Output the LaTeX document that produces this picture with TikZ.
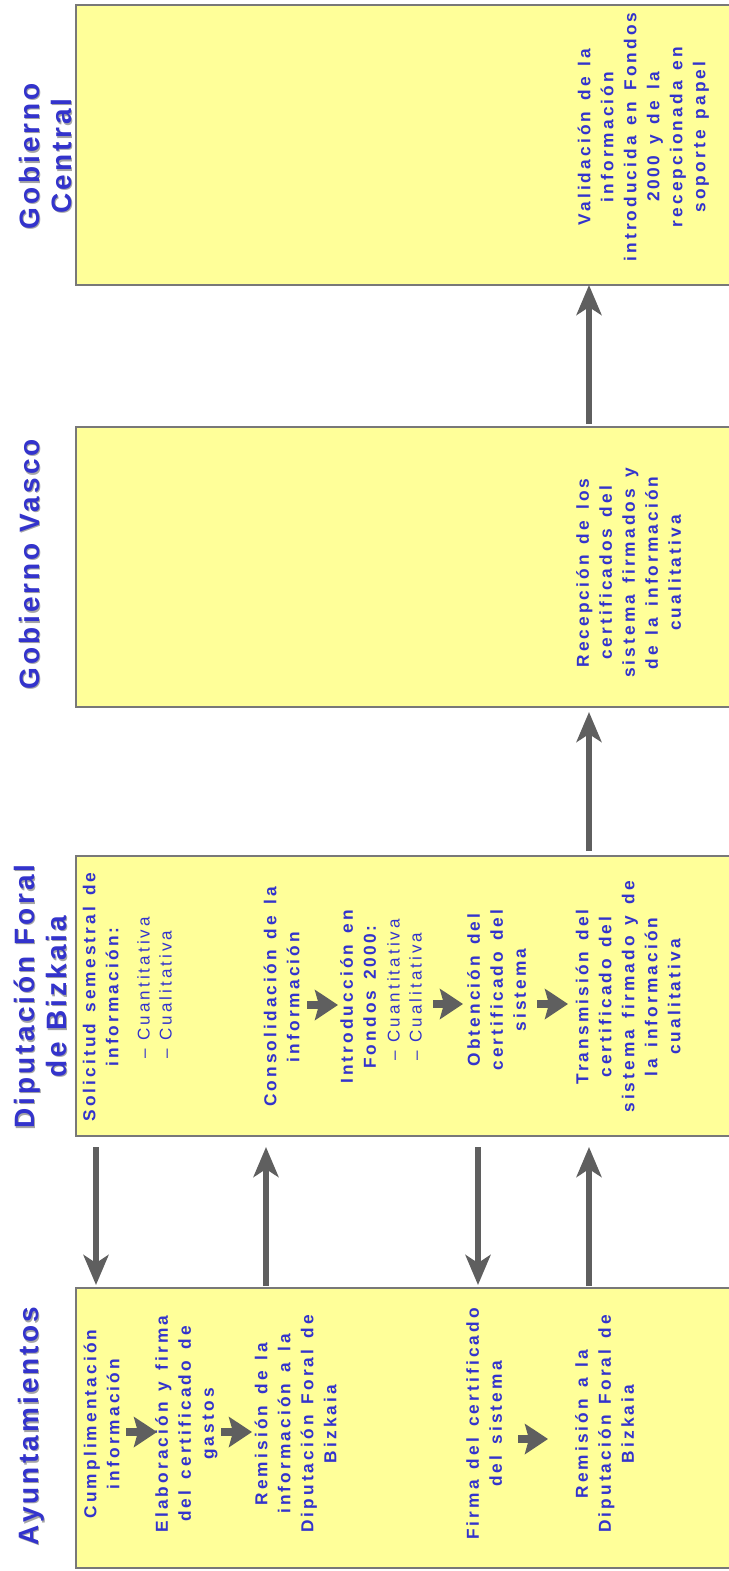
\documentclass[tikz,border=0pt]{standalone}
\usepackage{fontspec}
\setmainfont{Liberation Sans}
\newfontfamily\headfont[LetterSpace=11]{Liberation Sans}
\newfontfamily\bodyfont[LetterSpace=18,WordSpace=1.4]{Liberation Sans}
\usetikzlibrary{arrows.meta,calc}
\definecolor{txtblue}{RGB}{51,51,204}
\definecolor{boxfill}{RGB}{255,255,153}
\definecolor{boxline}{RGB}{120,120,120}
\definecolor{arrgrey}{RGB}{95,95,95}
\definecolor{shadowgrey}{RGB}{165,165,165}
\newcommand\bstrut{\vrule width 0pt height 16pt depth 7pt}
\newcommand\hstrut{\vrule width 0pt height 22pt depth 10pt}
\newcommand\dosmil{2\kern2.5pt0\kern2.5pt0\kern2.5pt0}
\begin{document}
\begin{tikzpicture}[x=1pt,y=-1pt,
  lanebox/.style={draw=boxline, line width=2pt, fill=boxfill, minimum width=700pt, minimum height=280pt, anchor=north west, inner sep=0pt, outer sep=0pt},
  heading/.style={rotate=90, align=center, inner sep=0pt, outer sep=0pt, text=txtblue, font=\headfont\bfseries\fontsize{28}{32}\selectfont, execute at begin node=\hstrut, execute at end node=\hstrut},
  headshadow/.style={heading, text=shadowgrey},
  steptext/.style={rotate=90, align=center, inner sep=0pt, outer sep=0pt, text=txtblue, font=\bodyfont\bfseries\fontsize{17.3}{23}\selectfont, execute at begin node=\bstrut, execute at end node=\bstrut},
  itemtext/.style={rotate=90, anchor=west, inner sep=0pt, outer sep=0pt, text=txtblue, font=\bodyfont\fontsize{17}{23}\selectfont, execute at begin node=\bstrut},
  lanearrow/.style={color=arrgrey, line width=6pt, -{Stealth[length=30pt,width=25pt,inset=8pt]}},
  steparrow/.style={color=arrgrey, line width=8pt, -{Stealth[length=23pt,width=30pt,inset=4pt]}},
]
\useasboundingbox (0,0) rectangle (728,1571);

% lanes
\node[lanebox] (gc) at (76,5) {};
\node[lanebox] (gv) at (76,427) {};
\node[lanebox] (dfb) at (76,856) {};
\node[lanebox] (ayu) at (76,1288) {};

% headings with shadow
\node[headshadow] (gcS) at (51.5,157.5) {Gobierno\\Central};
\node[heading] (gcT) at (50,156) {Gobierno\\Central};
\node[headshadow] (gvS) at (34.5,565.5) {Gobierno Vasco};
\node[heading] (gvT) at (33,564) {Gobierno Vasco};
\node[headshadow] (dfbS) at (46.5,998) {Diputación Foral\\de Bizkaia};
\node[heading] (dfbT) at (45,996.5) {Diputación Foral\\de Bizkaia};
\node[headshadow] (ayuS) at (33.5,1427.5) {Ayuntamientos};
\node[heading] (ayuT) at (32,1426) {Ayuntamientos};

% Gobierno Central
\node[steptext] (valid) at (645,137) {Validación de la\\información\\introducida en Fondos\\\dosmil{} y de la\\recepcionada en\\soporte papel};
% Gobierno Vasco
\node[steptext] (recep) at (632,573) {Recepción de los\\certificados del\\sistema firmados y\\de la información\\cualitativa};
% Diputacion
\node[steptext] (solic) at (104,997) {Solicitud semestral de\\información:};
\node[itemtext] (solic1) at (145,1058) {–\hspace{8pt}Cuantitativa};
\node[itemtext] (solic2) at (167,1058) {–\hspace{8pt}Cualitativa};
\node[steptext] (consol) at (285,997) {Consolidación de la\\información};
\node[steptext] (intro) at (361.5,997) {Introducción en\\Fondos \dosmil\kern2.5pt:};
\node[itemtext] (intro1) at (395,1060) {–\hspace{8pt}Cuantitativa};
\node[itemtext] (intro2) at (417,1060) {–\hspace{8pt}Cualitativa};
\node[steptext] (obten) at (500,990) {Obtención del\\certificado del\\sistema};
\node[steptext] (transm) at (631.5,997) {Transmisión del\\certificado del\\sistema firmado y de\\la información\\cualitativa};
% Ayuntamientos
\node[steptext] (cumpl) at (105,1424) {Cumplimentación\\información};
\node[steptext] (elab) at (188,1424) {Elaboración y firma\\del certificado de\\gastos};
\node[steptext] (remis) at (299,1424) {Remisión de la\\información a la\\Diputación Foral de\\Bizkaia};
\node[steptext] (firma) at (487.5,1424) {Firma del certificado\\del sistema};
\node[steptext] (remdf) at (608,1424) {Remisión a la\\Diputación Foral de\\Bizkaia};

% step arrows inside lanes
\draw[steparrow] ($(cumpl.center)+(21,8)$) -- ($(elab.center)+(-31,8)$);
\draw[steparrow] ($(elab.center)+(33,8)$) -- ($(remis.center)+(-47,8)$);
\draw[steparrow] ($(firma.center)+(30.5,15)$) -- ($(remdf.center)+(-60,15)$);
\draw[steparrow] ($(consol.center)+(22,8)$) -- ($(intro.center)+(-23.5,8)$);
\draw[steparrow] ($(intro.center)+(71.5,7)$) -- ($(obten.center)+(-37,14)$);
\draw[steparrow] ($(obten.center)+(37,14)$) -- ($(transm.center)+(-63.5,7)$);

% arrows between lanes
\coordinate (colA) at (96,0);
\coordinate (colB) at (266,0);
\coordinate (colC) at (478,0);
\coordinate (colD) at (589,0);
\draw[lanearrow, shorten <=3pt] (gv.north -| colD) -- (gc.south -| colD);
\draw[lanearrow, shorten <=5pt, shorten >=5pt] (dfb.north -| colD) -- (gv.south -| colD);
\draw[lanearrow, shorten <=11pt, shorten >=3pt] (dfb.south -| colA) -- (ayu.north -| colA);
\draw[lanearrow, shorten <=2pt, shorten >=11pt] (ayu.north -| colB) -- (dfb.south -| colB);
\draw[lanearrow, shorten <=11pt, shorten >=3pt] (dfb.south -| colC) -- (ayu.north -| colC);
\draw[lanearrow, shorten <=2pt, shorten >=11pt] (ayu.north -| colD) -- (dfb.south -| colD);
\end{tikzpicture}
\end{document}
